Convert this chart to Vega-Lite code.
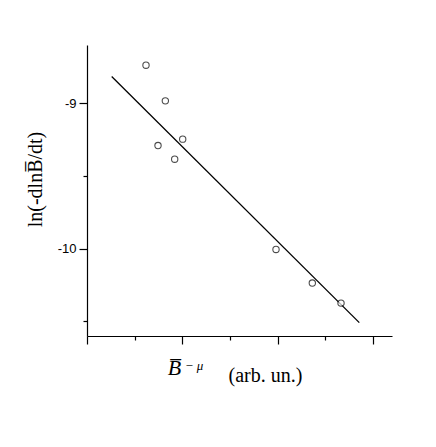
{
  "$schema": "https://vega.github.io/schema/vega-lite/v6.json",
  "width": 305,
  "height": 291,
  "autosize": "none",
  "padding": {"left": 87, "top": 45, "right": 44, "bottom": 111},
  "background": "white",
  "config": {"view": {"stroke": null}},
  "datasets": {
    "pts": [
      {"x": 0.619, "y": -8.739},
      {"x": 0.822, "y": -8.984},
      {"x": 1.004, "y": -9.247},
      {"x": 0.745, "y": -9.291},
      {"x": 0.920, "y": -9.385},
      {"x": 1.983, "y": -10.005},
      {"x": 2.364, "y": -10.236},
      {"x": 2.665, "y": -10.374}
    ],
    "fit": [
      {"x": 0.259, "y": -8.817},
      {"x": 2.857, "y": -10.508}
    ],
    "lbl": [
      {"x": 0.918, "y": -10.87, "t": "B̅", "part": "base"},
      {"x": 1.123, "y": -10.836, "t": "− μ", "part": "sup"}
    ]
  },
  "layer": [
    {
      "data": {"name": "fit"},
      "mark": {"type": "line", "color": "black", "strokeWidth": 1.3},
      "encoding": {
        "x": {
          "field": "x", "type": "quantitative",
          "scale": {"domain": [0, 3.2], "nice": false, "zero": false},
          "axis": {
            "values": [0, 0.5, 1, 1.5, 2, 2.5, 3],
            "labels": false,
            "grid": false,
            "domainColor": "black",
            "domainWidth": 1.2,
            "tickColor": "black",
            "tickWidth": 1.2,
            "tickSize": {"condition": {"test": "datum.value % 1 !== 0", "value": 4}, "value": 8},
            "title": "(arb. un.)",
            "titleFont": "Liberation Serif",
            "titleFontSize": 20,
            "titleFontWeight": "normal",
            "titleColor": "black",
            "titleX": 178,
            "titleY": 45,
            "titleAlign": "center",
            "titleBaseline": "alphabetic"
          }
        },
        "y": {
          "field": "y", "type": "quantitative",
          "scale": {"domain": [-10.6, -8.6], "nice": false, "zero": false},
          "axis": {
            "values": [-10.5, -10, -9.5, -9],
            "labelExpr": "datum.value % 1 === 0 ? '' + datum.value : ''",
            "labelFont": "Liberation Sans",
            "labelFontSize": 13,
            "labelColor": "black",
            "labelPadding": 3,
            "grid": false,
            "domainColor": "black",
            "domainWidth": 1.2,
            "tickColor": "black",
            "tickWidth": 1.2,
            "tickSize": {"condition": {"test": "datum.value % 1 !== 0", "value": 4}, "value": 8},
            "title": "ln(-dlnB̅/dt)",
            "titleFont": "Liberation Serif",
            "titleFontSize": 20,
            "titleFontWeight": "normal",
            "titleColor": "black",
            "titleX": -42,
            "titleY": 134,
            "titleAlign": "center",
            "titleAngle": -90,
            "titleBaseline": "bottom"
          }
        }
      }
    },
    {
      "data": {"name": "pts"},
      "mark": {"type": "point", "shape": "circle", "size": 40, "stroke": "black", "strokeWidth": 1.1, "fill": "white", "filled": false},
      "encoding": {
        "x": {"field": "x", "type": "quantitative"},
        "y": {"field": "y", "type": "quantitative"}
      }
    },
    {
      "data": {"name": "lbl"},
      "transform": [{"filter": "datum.part === 'base'"}],
      "mark": {"type": "text", "font": "Liberation Serif", "fontSize": 22, "fontStyle": "italic", "color": "black", "baseline": "alphabetic", "align": "center", "clip": false},
      "encoding": {
        "x": {"field": "x", "type": "quantitative"},
        "y": {"field": "y", "type": "quantitative"},
        "text": {"field": "t"}
      }
    },
    {
      "data": {"name": "lbl"},
      "transform": [{"filter": "datum.part === 'sup'"}],
      "mark": {"type": "text", "font": "Liberation Serif", "fontSize": 13, "fontStyle": "italic", "color": "black", "baseline": "alphabetic", "align": "center", "clip": false},
      "encoding": {
        "x": {"field": "x", "type": "quantitative"},
        "y": {"field": "y", "type": "quantitative"},
        "text": {"field": "t"}
      }
    }
  ]
}
